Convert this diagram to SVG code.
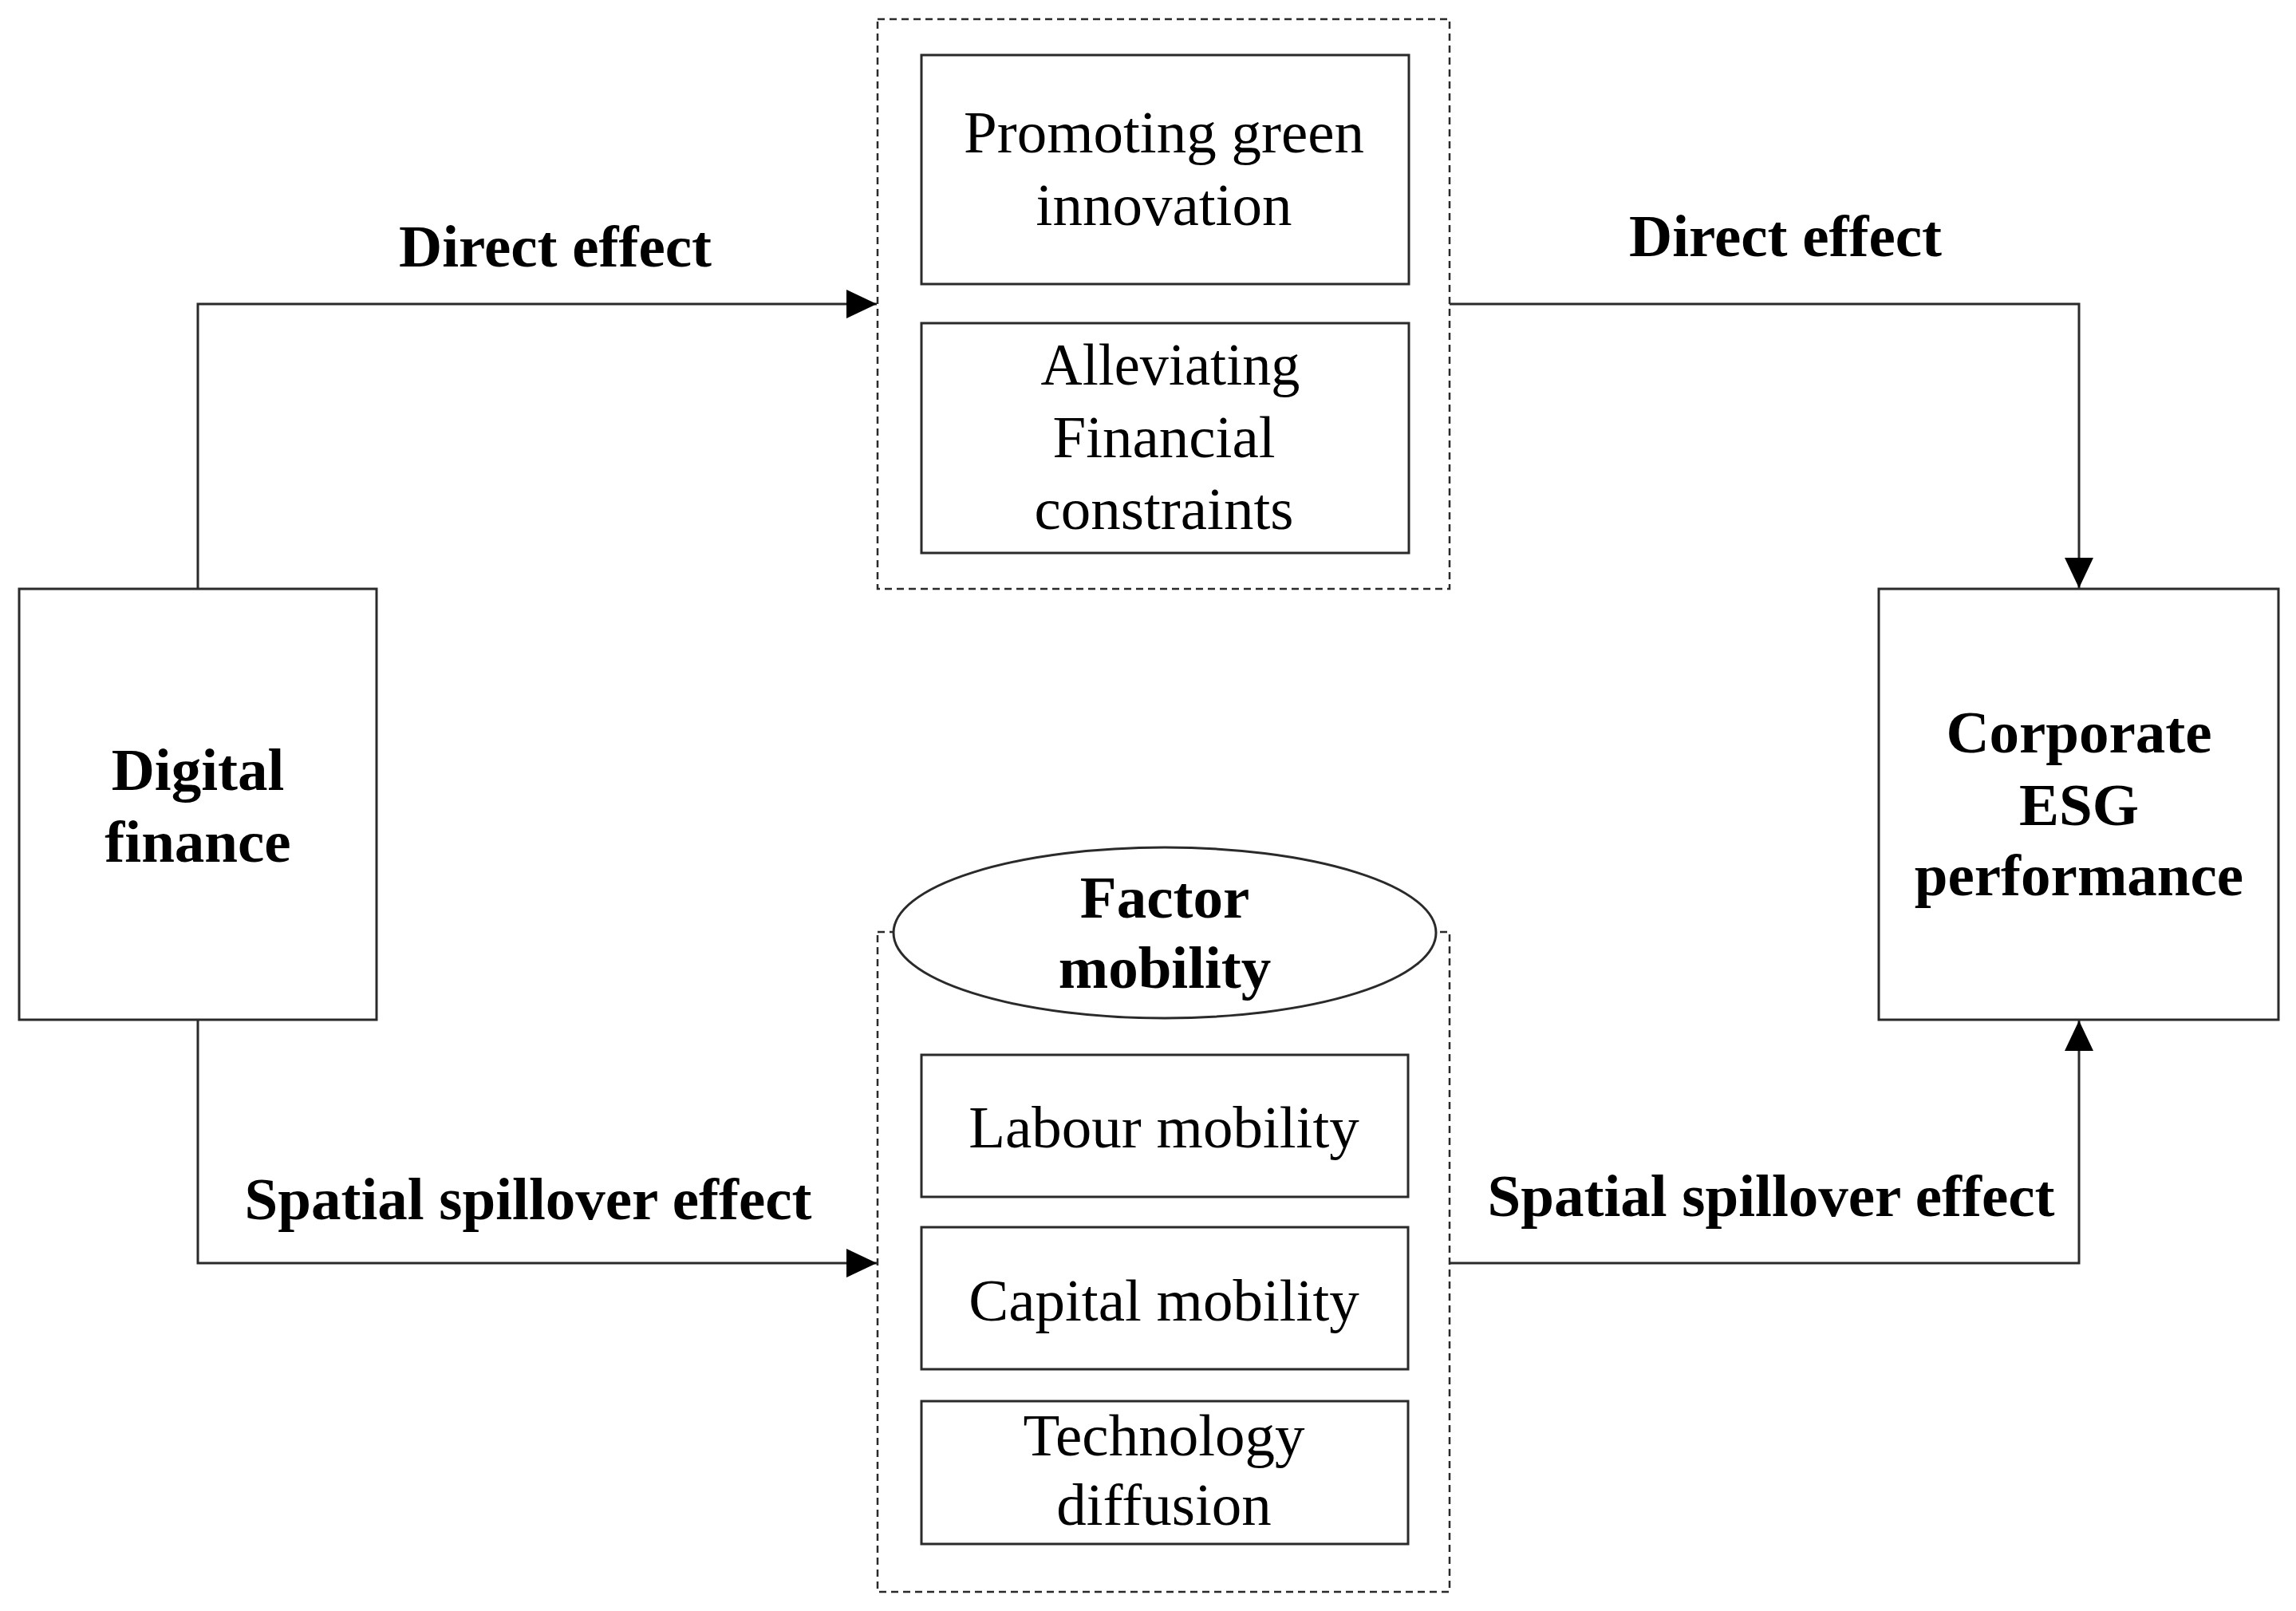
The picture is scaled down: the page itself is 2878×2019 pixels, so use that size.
<svg xmlns="http://www.w3.org/2000/svg" width="2878" height="2019" viewBox="0 0 2878 2019">
<style>
.box{fill:#fff;stroke:#2a2a2a;stroke-width:3}
.dash{fill:none;stroke:#2a2a2a;stroke-width:2.5;stroke-dasharray:9 6}
.conn{fill:none;stroke:#2a2a2a;stroke-width:3}
.t{font-family:"Liberation Serif","Times New Roman",serif;font-size:75px;fill:#000;text-anchor:middle}
.b{font-weight:bold}
</style>
<defs>
<marker id="arr" markerUnits="userSpaceOnUse" markerWidth="40" markerHeight="38" refX="38" refY="18" orient="auto">
<path d="M0,0 L38,18 L0,36 z" fill="#000"/>
</marker>
</defs>
<rect width="2878" height="2019" fill="#fff"/>

<g id="connectors">
<path class="conn" d="M248,738 V381 H1099" marker-end="url(#arr)"/>
<path class="conn" d="M1817,381 H2606 V737" marker-end="url(#arr)"/>
<path class="conn" d="M248,1278 V1583 H1099" marker-end="url(#arr)"/>
<path class="conn" d="M1817,1583 H2606 V1279" marker-end="url(#arr)"/>
<text class="t b" x="696" y="334">Direct effect</text>
<text class="t b" x="2238" y="321">Direct effect</text>
<text class="t b" x="662" y="1528">Spatial spillover effect</text>
<text class="t b" x="2220" y="1524">Spatial spillover effect</text>
</g>

<g id="digital-finance">
<rect class="box" x="24" y="738" width="448" height="540"/>
<text class="t b" x="248" y="990">Digital</text>
<text class="t b" x="248" y="1080">finance</text>
</g>

<g id="corporate-esg">
<rect class="box" x="2355" y="738" width="501" height="540"/>
<text class="t b" x="2606" y="943">Corporate</text>
<text class="t b" x="2606" y="1034">ESG</text>
<text class="t b" x="2606" y="1122">performance</text>
</g>

<g id="direct-channels">
<rect class="dash" x="1100" y="24" width="717" height="714"/>
<g id="green-innovation">
<rect class="box" x="1155" y="69" width="611" height="287"/>
<text class="t" x="1459" y="191">Promoting green</text>
<text class="t" x="1459" y="282">innovation</text>
</g>
<g id="financial-constraints">
<rect class="box" x="1155" y="405" width="611" height="288"/>
<text class="t" x="1467" y="482" textLength="325" lengthAdjust="spacingAndGlyphs">Alleviating</text>
<text class="t" x="1459" y="573">Financial</text>
<text class="t" x="1459" y="663">constraints</text>
</g>
</g>

<g id="factor-mobility">
<rect class="dash" x="1100" y="1168" width="717" height="827"/>
<ellipse class="box" cx="1460" cy="1169" rx="340" ry="107"/>
<text class="t b" x="1460" y="1150">Factor</text>
<text class="t b" x="1460" y="1238">mobility</text>
<g id="labour-mobility">
<rect class="box" x="1155" y="1322" width="610" height="178"/>
<text class="t" x="1459" y="1438">Labour mobility</text>
</g>
<g id="capital-mobility">
<rect class="box" x="1155" y="1538" width="610" height="178"/>
<text class="t" x="1459" y="1655">Capital mobility</text>
</g>
<g id="technology-diffusion">
<rect class="box" x="1155" y="1756" width="610" height="179"/>
<text class="t" x="1459" y="1824">Technology</text>
<text class="t" x="1459" y="1911">diffusion</text>
</g>
</g>
</svg>
